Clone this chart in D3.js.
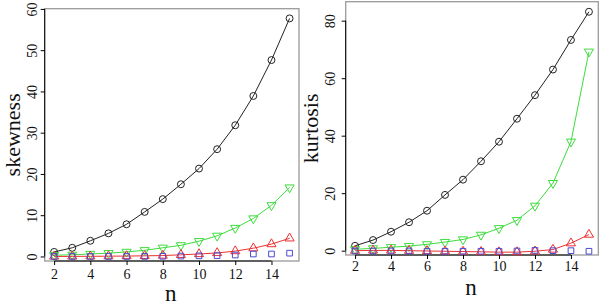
<!DOCTYPE html>
<html lang="en">
<head>
    <meta charset="UTF-8">
    <title>skewness / kurtosis</title>
    <script src="https://d3js.org/d3.v7.min.js"></script>
    <style>
        body{
            margin: 0;
            background: white;
        }
        svg{
            display: block;
        }
        svg text{
            font-family: "Liberation Serif", "Times New Roman", Times, "DejaVu Serif", serif !important;
            fill: #111;
        }
    </style>
</head>
<body>
<svg></svg>
<script>
    const width = 600;
    const height = 306;

    // n values on the x axis
    const nValues = [2, 3, 4, 5, 6, 7, 8, 9, 10, 11, 12, 13, 14, 15];
    const xTicks = [2, 4, 6, 8, 10, 12, 14];

    // skewness panel
    const skewBlack = [1.1, 2.1, 3.8, 5.6, 7.8, 10.8, 13.9, 17.5, 21.3, 26.0, 31.8, 38.9, 47.6, 57.7];
    const skewGreen = [0.3, 0.4, 0.6, 0.8, 1.1, 1.5, 2.1, 2.7, 3.7, 5.0, 6.9, 9.2, 12.4, 16.7];
    const skewRed = [0.0, 0.02, 0.04, 0.07, 0.1, 0.15, 0.22, 0.4, 0.6, 0.85, 1.3, 2.0, 3.0, 4.4];
    const skewBlue = [0.0, 0.0, 0.0, 0.0, 0.0, 0.02, 0.05, 0.1, 0.15, 0.2, 0.35, 0.6, 0.6, 0.8];
    const skewTicks = [0, 10, 20, 30, 40, 50, 60];

    // kurtosis panel
    const kurtBlack = [1.7, 3.7, 6.6, 9.9, 13.9, 19.4, 24.7, 31.1, 37.9, 45.9, 54.1, 63.0, 73.3, 83.1];
    const kurtGreen = [0.5, 0.8, 1.2, 1.6, 2.2, 3.0, 3.9, 5.5, 7.8, 10.6, 15.6, 23.5, 37.9, 69.2];
    const kurtRed = [0.0, 0.1, 0.1, 0.0, -0.1, -0.2, -0.3, -0.4, -0.5, -0.5, -0.2, 0.4, 2.6, 5.6];
    const kurtBlue = [-0.1, -0.1, -0.1, -0.1, -0.2, -0.2, -0.2, -0.2, -0.2, -0.1, 0.1, 0.0, 0.0, -0.2];
    const kurtTicks = [0, 20, 40, 60, 80];

    const svg = d3.select("svg")
        .attr("width", width)
        .attr("height", height);

    const symCircle = d3.symbol().type(d3.symbolCircle).size(38);
    const symTri = d3.symbol().type(d3.symbolTriangle).size(36);
    const symSquare = d3.symbol().type(d3.symbolSquare).size(32);

    function panel(cfg){
        const x = d3.scaleLinear().domain([1.48, 15.52]).range([cfg.left, cfg.right]);
        const y = d3.scaleLinear().domain(cfg.yDomain).range([cfg.bottom, cfg.top]);
        const g = svg.append("g");

        // box
        g.append("rect")
            .attr("x", cfg.left).attr("y", cfg.top)
            .attr("width", cfg.right - cfg.left).attr("height", cfg.bottom - cfg.top)
            .attr("fill", "none").attr("stroke", "#9a9a9a").attr("stroke-width", 1.3);

        // axes, R style: line spans first to last tick
        const xAxis = d3.axisBottom(x).tickValues(xTicks).tickSize(4).tickSizeOuter(0);
        const xg = g.append("g").attr("transform", `translate(0,${cfg.bottom})`).call(xAxis);
        xg.select(".domain").attr("d", `M${x(xTicks[0])},0H${x(xTicks[xTicks.length-1])}`);
        xg.selectAll("text").attr("font-size", 14)
            .attr("dy", null).attr("y", cfg.xLabelBase - cfg.bottom);

        const yAxis = d3.axisLeft(y).tickValues(cfg.yTicks).tickSize(4).tickSizeOuter(0);
        const yg = g.append("g").attr("transform", `translate(${cfg.left},0)`).call(yAxis);
        yg.select(".domain").attr("d", `M0,${y(cfg.yTicks[0])}V${y(cfg.yTicks[cfg.yTicks.length-1])}`);
        yg.selectAll(".tick text")
            .attr("font-size", 14)
            .attr("x", null).attr("dy", null)
            .attr("text-anchor", "middle")
            .attr("transform", `translate(${-cfg.yLabelGap},0) rotate(-90)`);

        const line = d3.line().x((d, i) => x(nValues[i])).y(d => y(d));

        cfg.series.forEach(s => {
            if (s.line) {
                g.append("path")
                    .attr("d", line(s.values))
                    .attr("fill", "none")
                    .attr("stroke", s.color)
                    .attr("stroke-width", 1);
            }
            g.selectAll(null)
                .data(s.values)
                .join("path")
                .attr("d", s.symbol)
                .attr("transform", (d, i) => `translate(${x(nValues[i])},${y(d)})${s.flip ? " rotate(180)" : ""}`)
                .attr("fill", "none")
                .attr("stroke", s.color)
                .attr("stroke-width", 1);
        });

        // axis titles
        g.append("text")
            .attr("x", (cfg.left + cfg.right) / 2 - 1)
            .attr("y", cfg.nBase)
            .attr("text-anchor", "middle")
            .attr("font-size", 23)
            .text("n");
        g.append("text")
            .attr("transform", `translate(${cfg.titleX},${(cfg.top + cfg.bottom) / 2}) rotate(-90)`)
            .attr("text-anchor", "middle")
            .attr("font-size", 22)
            .text(cfg.title);
    }

    panel({
        left: 44.7, right: 299, top: 8.7, bottom: 261,
        yDomain: [-1.1, 60.05], yTicks: skewTicks,
        xLabelBase: 279, yLabelGap: 8, nBase: 301, titleX: 20,
        title: "skewness",
        series: [
            {values: skewBlack, color: "#222222", symbol: symCircle, line: true},
            {values: skewGreen, color: "#3ddc3d", symbol: symTri, flip: true, line: true},
            {values: skewRed, color: "#ee3030", symbol: symTri, line: true},
            {values: skewBlue, color: "#4a4ad0", symbol: symSquare, line: false}
        ]
    });

    panel({
        left: 345.7, right: 598.3, top: 1.7, bottom: 255,
        yDomain: [-1.5, 86.6], yTicks: kurtTicks,
        xLabelBase: 271, yLabelGap: 10.5, nBase: 295, titleX: 318,
        title: "kurtosis",
        series: [
            {values: kurtBlack, color: "#222222", symbol: symCircle, line: true},
            {values: kurtGreen, color: "#3ddc3d", symbol: symTri, flip: true, line: true},
            {values: kurtRed, color: "#ee3030", symbol: symTri, line: true},
            {values: kurtBlue, color: "#4a4ad0", symbol: symSquare, line: false}
        ]
    });
</script>
</body>
</html>
